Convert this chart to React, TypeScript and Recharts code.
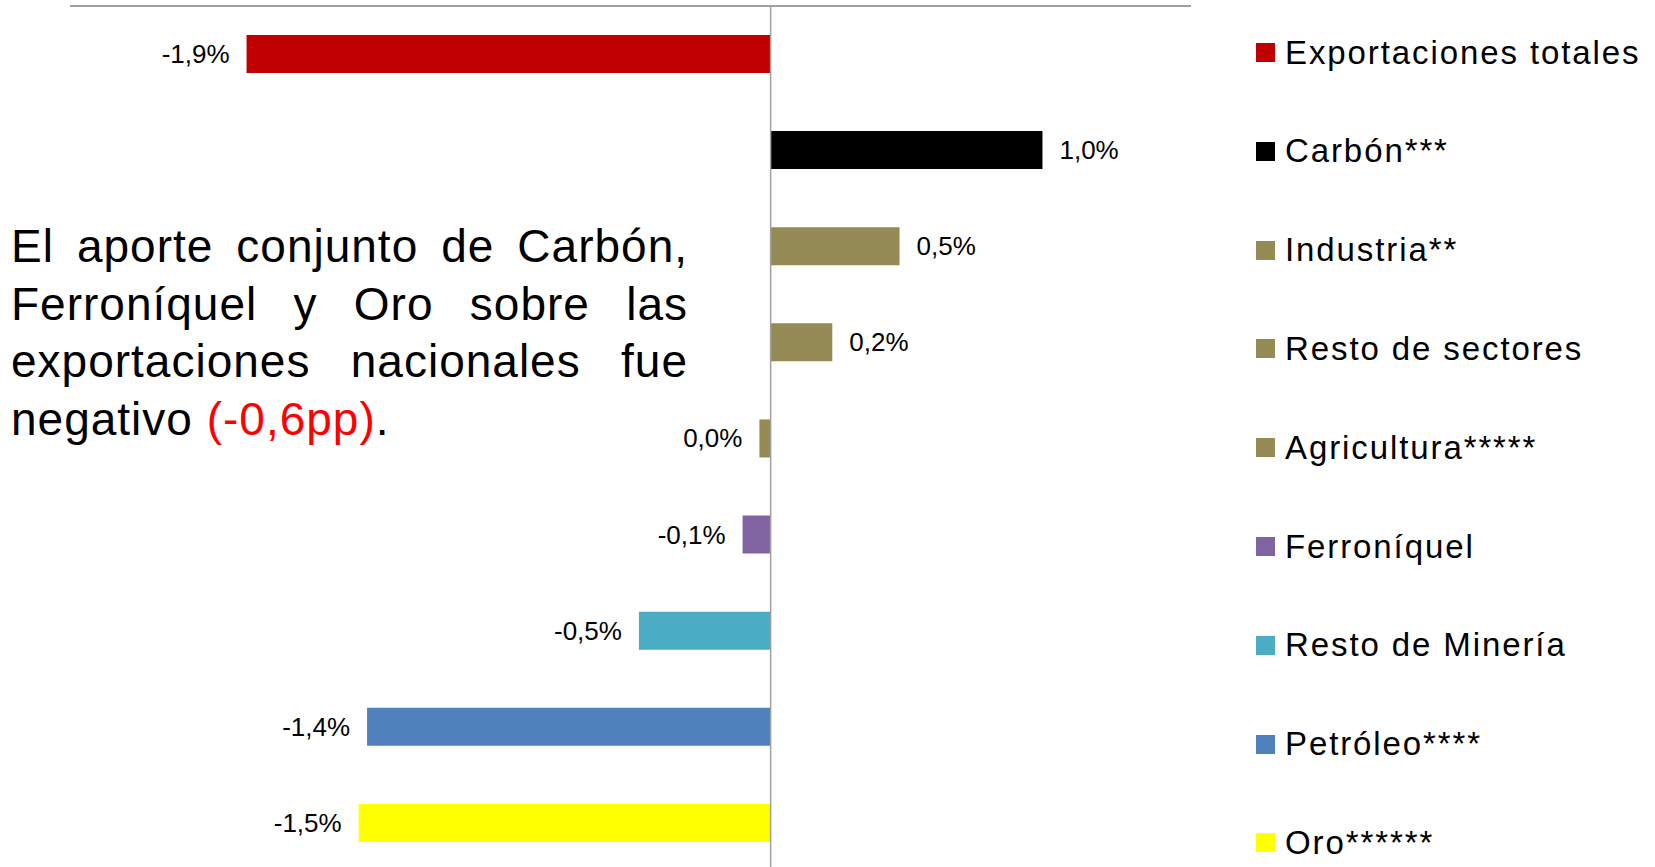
import { Bar, BarChart, Cell, LabelList, ReferenceLine, XAxis, YAxis } from "recharts";

const categories = [
  "Exportaciones totales",
  "Carbón***",
  "Industria**",
  "Resto de sectores",
  "Agricultura*****",
  "Ferroníquel",
  "Resto de Minería",
  "Petróleo****",
  "Oro******",
];
const contributions = [-1.87, 0.97, 0.46, 0.22, -0.04, -0.1, -0.47, -1.44, -1.47];
const valueLabels = ["-1,9%", "1,0%", "0,5%", "0,2%", "0,0%", "-0,1%", "-0,5%", "-1,4%", "-1,5%"];
const barColors = [
  "#C00000",
  "#000000",
  "#948A54",
  "#948A54",
  "#948A54",
  "#8064A2",
  "#4BACC6",
  "#4F81BD",
  "#FFFF00",
];
const noteLines = [
  "El aporte conjunto de Carbón,",
  "Ferroníquel y Oro sobre las",
  "exportaciones nacionales fue",
];

const rows = categories.map((name, i) => ({
  name,
  value: contributions[i],
  label: valueLabels[i],
}));

const FONT = "'Liberation Sans', Arial, sans-serif";
const AXIS_GRAY = "#A0A0A0";

// Excel-style "outside end" labels: right of positive bars, left of negative ones
const renderValueLabel = (props: any) => {
  const vb = props.viewBox ?? props;
  const { x, y, width, height } = vb;
  const idx = props.index;
  const negative = typeof idx === "number" ? contributions[idx] < 0 : width < 0;
  const left = Math.min(x, x + width);
  const right = Math.max(x, x + width);
  const tx = negative ? left - 17 : right + 17;
  return (
    <text
      x={tx}
      y={y + height / 2}
      textAnchor={negative ? "end" : "start"}
      dominantBaseline="central"
      fontSize={26}
      fontFamily={FONT}
      fill="#000"
    >
      {props.value}
    </text>
  );
};

export default function App() {
  return (
    <div
      style={{
        position: "relative",
        width: 1655,
        height: 867,
        overflow: "hidden",
        background: "#fff",
        fontFamily: FONT,
      }}
    >
      <style>{"body{margin:0}"}</style>
      <BarChart
        width={1655}
        height={871}
        data={rows}
        layout="vertical"
        margin={{ top: 0, right: 464, bottom: 0, left: 70 }}
        barSize={38}
      >
        <XAxis
          type="number"
          domain={[-2.5, 1.5]}
          orientation="top"
          height={6}
          tick={false}
          tickLine={false}
          axisLine={{ stroke: AXIS_GRAY, strokeWidth: 2 }}
        />
        <YAxis type="category" dataKey="name" hide />
        <Bar dataKey="value" isAnimationActive={false}>
          {rows.map((r, i) => (
            <Cell key={r.name} fill={barColors[i]} />
          ))}
          <LabelList dataKey="label" content={renderValueLabel} />
        </Bar>
        <ReferenceLine x={0} stroke={AXIS_GRAY} strokeWidth={1.5} />
      </BarChart>

      <div
        style={{
          position: "absolute",
          left: 11,
          top: 218,
          width: 677,
          fontSize: 46,
          letterSpacing: 1,
          lineHeight: "57.5px",
          color: "#000",
        }}
      >
        {noteLines.map((line) => (
          <div key={line} style={{ textAlign: "justify", textAlignLast: "justify" }}>
            {line}
          </div>
        ))}
        <div>
          negativo <span style={{ color: "#FF0000" }}>(-0,6pp)</span>.
        </div>
      </div>

      {categories.map((name, i) => (
        <div
          key={name}
          style={{
            position: "absolute",
            left: 1256,
            top: 52.5 + i * 98.8 - 20,
            height: 40,
            display: "flex",
            alignItems: "center",
            whiteSpace: "nowrap",
          }}
        >
          <span
            style={{
              width: 19,
              height: 19,
              background: barColors[i],
              marginRight: 10,
              flexShrink: 0,
            }}
          />
          <span style={{ fontSize: 33, letterSpacing: 1.9, color: "#000" }}>{name}</span>
        </div>
      ))}
    </div>
  );
}
